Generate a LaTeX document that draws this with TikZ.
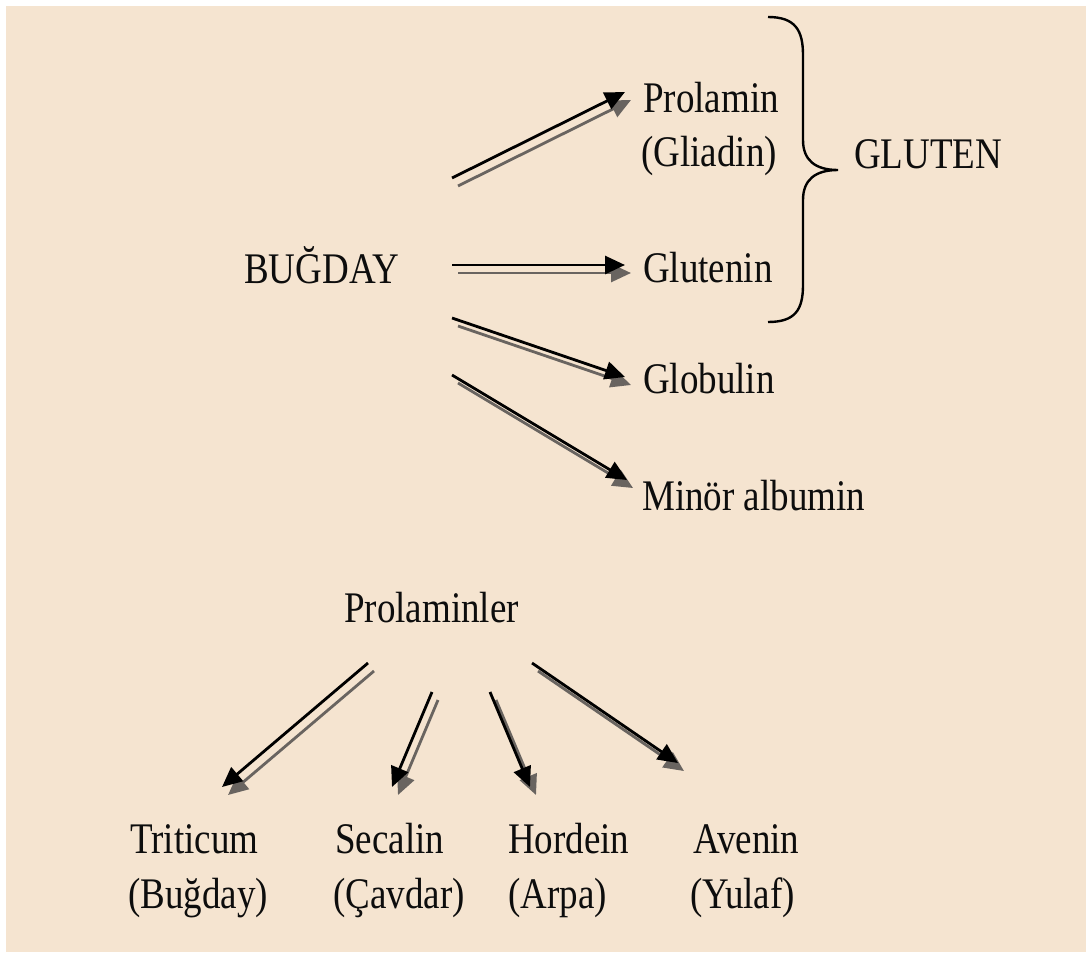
\documentclass[tikz,border=0pt]{standalone}
\usepackage{fontspec}
\setmainfont{Liberation Serif}
\usetikzlibrary{arrows.meta}
\definecolor{bg}{RGB}{245,228,208}
\definecolor{shadegray}{RGB}{105,100,96}
\newcommand{\vs}[1]{\scalebox{1}[1.18]{#1}}
\begin{document}
\begin{tikzpicture}[x=1pt,y=-1pt,
  txt/.style={anchor=base west, inner sep=0pt, font=\fontsize{37}{44}\selectfont, text=black!95},
  arr/.style={line width=2.8pt, -{Triangle[length=20pt,width=18pt]}, draw=black},
  shad/.style={line width=2.8pt, -{Triangle[length=20pt,width=18pt]}, draw=shadegray}]
\useasboundingbox (0,0) rectangle (1086,956);
\fill[white] (0,0) rectangle (1086,956);
\fill[bg] (6,6) rectangle (1086,952);

% texts
\node[txt] (bug) at (244,283) {\vs{BUĞDAY}};
\node[txt] (pro) at (643,112) {\vs{Prolamin}};
\node[txt] (gli) at (641,166) {\vs{(Gliadin)}};
\node[txt] (glt) at (643,282) {\vs{Glutenin}};
\node[txt] (glo) at (643,393) {\vs{Globulin}};
\node[txt] (min) at (642,510) {\vs{Minör albumin}};
\node[txt] (gluten) at (854,168) {\vs{GLUTEN}};
\node[txt] (prl) at (344,622) {\vs{Prolaminler}};
\node[txt] (tri) at (130,853) {\vs{Triticum}};
\node[txt] (tri2) at (128,908) {\vs{(Buğday)}};
\node[txt] (sec) at (335,853) {\vs{Secalin}};
\node[txt] (sec2) at (333,908) {\vs{(Çavdar)}};
\node[txt] (hor) at (508,853) {\vs{Hordein}};
\node[txt] (hor2) at (508,908) {\vs{(Arpa)}};
\node[txt] (ave) at (693,853) {\vs{Avenin}};
\node[txt] (ave2) at (690,908) {\vs{(Yulaf)}};

% arrow end points
\coordinate (s1) at (452,178); \coordinate (t1) at (625,92);
\coordinate (s2) at (452,265); \coordinate (t2) at (625,265);
\coordinate (s3) at (452,318); \coordinate (t3) at (625,377);
\coordinate (s4) at (452,375); \coordinate (t4) at (627,480);
\coordinate (u1) at (368,663); \coordinate (v1) at (222,787);
\coordinate (u2) at (432,692); \coordinate (v2) at (392,787);
\coordinate (u3) at (490,692); \coordinate (v3) at (530,787);
\coordinate (u4) at (532,663); \coordinate (v4) at (678,763);

\foreach \a/\b in {s1/t1,s2/t2,s3/t3,s4/t4,u1/v1,u2/v2,u3/v3,u4/v4}{
  \draw[shad] ([shift={(6,8)}]\a) -- ([shift={(6,8)}]\b);
}
\foreach \a/\b in {s1/t1,s2/t2,s3/t3,s4/t4,u1/v1,u2/v2,u3/v3,u4/v4}{
  \draw[arr] (\a) -- (\b);
}

% brace
\draw[line width=2.4pt] (768,17) .. controls (795,17) and (803,30) .. (803,55)
  -- (803,140) .. controls (803,160) and (815,170) .. (838,170)
  .. controls (815,170) and (803,180) .. (803,200)
  -- (803,285) .. controls (803,310) and (795,322) .. (768,322);
\end{tikzpicture}
\end{document}
